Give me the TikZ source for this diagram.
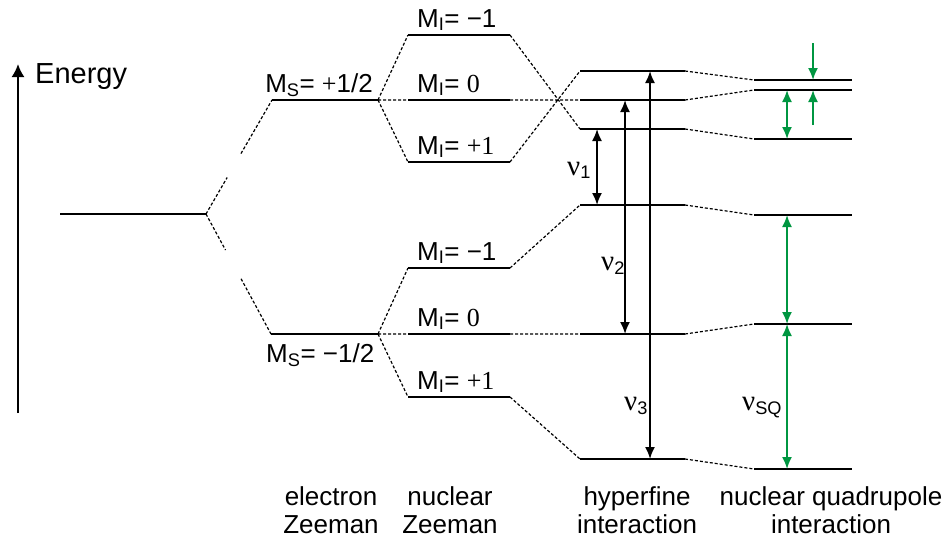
\documentclass[tikz,border=0pt]{standalone}
\usepackage{fontspec}
\setmainfont{Liberation Sans}
\newfontfamily\numfont{Liberation Serif}
\usetikzlibrary{arrows.meta,calc}
\definecolor{nqrgreen}{RGB}{0,150,65}
\newcommand{\MS}{M\textsubscript{S}}
\newcommand{\MI}{M\textsubscript{I}}
\newcommand{\nuf}{{\numfont\fontsize{29}{29}\selectfont ν}}
\tikzset{
  level/.style={line width=2.6pt},
  link/.style={line width=1.2pt, dash pattern=on 3pt off 2pt},
  trans/.style={line width=1.8pt, {Latex[length=12pt,width=10pt]}-{Latex[length=12pt,width=10pt]}},
  nqr/.style={trans, draw=nqrgreen, fill=nqrgreen},
  lbl/.style={font=\fontsize{26}{28}\selectfont, inner sep=0pt},
}
\begin{document}
\begin{tikzpicture}[x=1pt,y=-1pt]
    \useasboundingbox (0,0) rectangle (942,541);
    \coordinate (e0) at (18,413);
    \coordinate (e1) at (18,64);
    \draw[line width=2pt,-{Latex[length=13pt,width=13pt]}] (e0) -- (e1);
    \node[lbl,anchor=base west,font=\fontsize{29}{30}\selectfont] (energy) at (35,83) {Energy};
    \foreach \n/\xa/\xb/\y in {g/60/206/214, su/272/378/100, sd/271/378/334,
        i1/408/510/35, i2/408/510/100, i3/408/510/162, i4/408/510/268, i5/408/510/334, i6/408/510/397,
        h1/580/685/71, h2/580/685/100, h3/580/685/129, h4/580/685/205, h5/580/685/334, h6/580/685/459,
        q1/754/852/80, q2/754/852/90, q3/754/852/139, q4/754/852/215, q5/754/852/324, q6/754/852/469}
      {\coordinate (\n-l) at (\xa,\y);
       \coordinate (\n-r) at (\xb,\y);
       \draw[level] (\n-l) -- (\n-r);}
    \draw[link] (g-r) -- ($(g-r)!0.32!(su-l)$) ($(g-r)!0.53!(su-l)$) -- (su-l);
    \draw[link] (g-r) -- ($(g-r)!0.3!(sd-l)$) ($(g-r)!0.54!(sd-l)$) -- (sd-l);
    \draw[link] (su-r) -- (i1-l) (su-r) -- (i2-l) (su-r) -- (i3-l);
    \draw[link] (sd-r) -- (i4-l) (sd-r) -- (i5-l) (sd-r) -- (i6-l);
    \draw[link] (i1-r) -- (h3-l) (i2-r) -- (h2-l) (i3-r) -- (h1-l);
    \draw[link] (i4-r) -- (h4-l) (i5-r) -- (h5-l) (i6-r) -- (h6-l);
    \foreach \k in {1,...,6}
      \draw[link] (h\k-r) -- (q\k-l);
    \node[lbl,anchor=base east] (msu) at (373,92) {\MS= {\numfont +}1/2};
    \node[lbl,anchor=base west] (msd) at (266,362) {\MS= −1/2};
    \node[lbl,anchor=base west] (mi1) at ($(i1-l)+(9,-8)$) {\MI= −1};
    \node[lbl,anchor=base west] (mi2) at ($(i2-l)+(9,-8)$) {\MI= {\numfont 0}};
    \node[lbl,anchor=base west] (mi3) at ($(i3-l)+(9,-8)$) {\MI= {\numfont +1}};
    \node[lbl,anchor=base west] (mi4) at ($(i4-l)+(9,-8)$) {\MI= −1};
    \node[lbl,anchor=base west] (mi5) at ($(i5-l)+(9,-8)$) {\MI= {\numfont 0}};
    \node[lbl,anchor=base west] (mi6) at ($(i6-l)+(9,-8)$) {\MI= {\numfont +1}};
    \draw[trans] ($(h3-l)+(17,0)$) -- ($(h4-l)+(17,0)$);
    \draw[trans] ($(h2-l)+(45,0)$) -- ($(h5-l)+(45,0)$);
    \draw[trans] ($(h1-l)+(70,0)$) -- ($(h6-l)+(70,0)$);
    \node[lbl,anchor=base west] (nu1) at (567,175) {\nuf\textsubscript{1}};
    \node[lbl,anchor=base west] (nu2) at (601,270) {\nuf\textsubscript{2}};
    \node[lbl,anchor=base west] (nu3) at (624,410) {\nuf\textsubscript{3}};
    \draw[nqr] ($(q2-l)+(33,0)$) -- ($(q3-l)+(33,0)$);
    \draw[nqr] ($(q4-l)+(33,0)$) -- ($(q5-l)+(33,0)$);
    \draw[nqr] ($(q5-l)+(33,0)$) -- ($(q6-l)+(33,0)$);
    \coordinate (s1) at (813,43);
    \coordinate (s2) at (813,125);
    \draw[nqr,-{Latex[length=12pt,width=10pt]}] (s1) -- ($(q1-l)+(59,0)$);
    \draw[nqr,-{Latex[length=12pt,width=10pt]}] (s2) -- ($(q2-l)+(59,0)$);
    \node[lbl,anchor=base west] (nusq) at (742,410) {\nuf\textsubscript{SQ}};
    \node[lbl,align=center,anchor=north] (ez) at (331,486) {electron\\Zeeman};
    \node[lbl,align=center,anchor=north] (nz) at (450,486) {nuclear\\Zeeman};
    \node[lbl,align=center,anchor=north] (hf) at (637,486) {hyperfine\\interaction};
    \node[lbl,align=center,anchor=north] (nq) at (831,486) {nuclear quadrupole\\interaction};
\end{tikzpicture}
\end{document}
